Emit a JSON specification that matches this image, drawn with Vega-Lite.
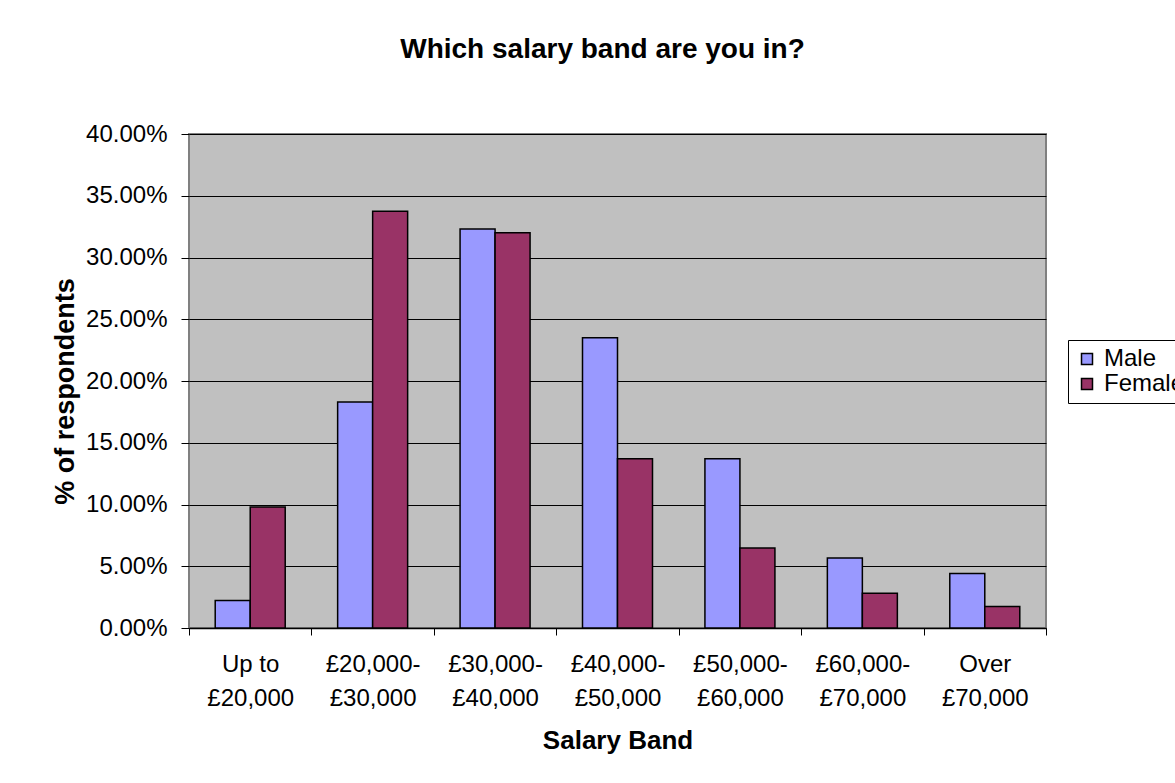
{
  "$schema": "https://vega.github.io/schema/vega-lite/v6.json",
  "width": 857,
  "height": 494,
  "autosize": {"type": "none"},
  "padding": {"left": 189, "top": 134, "right": 129, "bottom": 155},
  "background": "white",
  "title": {
    "text": "Which salary band are you in?",
    "font": "Liberation Sans",
    "fontSize": 28,
    "fontWeight": "bold",
    "color": "black",
    "anchor": "middle",
    "dx": -15,
    "baseline": "alphabetic",
    "offset": 36
  },
  "data": {
    "values": [
      {"band": "Up to\n£20,000", "gender": "Male", "pct": 0.0223},
      {"band": "Up to\n£20,000", "gender": "Female", "pct": 0.0979},
      {"band": "£20,000-\n£30,000", "gender": "Male", "pct": 0.183},
      {"band": "£20,000-\n£30,000", "gender": "Female", "pct": 0.3375},
      {"band": "£30,000-\n£40,000", "gender": "Male", "pct": 0.323},
      {"band": "£30,000-\n£40,000", "gender": "Female", "pct": 0.32},
      {"band": "£40,000-\n£50,000", "gender": "Male", "pct": 0.235},
      {"band": "£40,000-\n£50,000", "gender": "Female", "pct": 0.137},
      {"band": "£50,000-\n£60,000", "gender": "Male", "pct": 0.137},
      {"band": "£50,000-\n£60,000", "gender": "Female", "pct": 0.0647},
      {"band": "£60,000-\n£70,000", "gender": "Male", "pct": 0.0566},
      {"band": "£60,000-\n£70,000", "gender": "Female", "pct": 0.0282},
      {"band": "Over\n£70,000", "gender": "Male", "pct": 0.0442},
      {"band": "Over\n£70,000", "gender": "Female", "pct": 0.0174}
    ]
  },
  "mark": {"type": "bar", "stroke": "black", "strokeWidth": 1.5},
  "encoding": {
    "x": {
      "field": "band",
      "type": "nominal",
      "sort": null,
      "scale": {"paddingInner": 0, "paddingOuter": 0},
      "axis": {
        "tickBand": "extent",
        "tickColor": "black",
        "tickSize": 7,
        "domainColor": "black",
        "domainWidth": 1.5,
        "labelAngle": 0,
        "labelExpr": "split(datum.label, '\\n')",
        "labelLineHeight": 34,
        "labelFont": "Liberation Sans",
        "labelFontSize": 24,
        "labelColor": "black",
        "labelPadding": 17,
        "title": "Salary Band",
        "titleFont": "Liberation Sans",
        "titleFontSize": 26,
        "titleFontWeight": "bold",
        "titleColor": "black",
        "titlePadding": 17
      }
    },
    "xOffset": {
      "field": "gender",
      "sort": ["Male", "Female"],
      "scale": {"paddingInner": 0, "paddingOuter": 0.749}
    },
    "y": {
      "field": "pct",
      "type": "quantitative",
      "scale": {"domain": [0, 0.4], "nice": false},
      "axis": {
        "values": [0, 0.05, 0.1, 0.15, 0.2, 0.25, 0.3, 0.35, 0.4],
        "format": ".2%",
        "grid": true,
        "gridColor": "black",
        "gridOpacity": 1,
        "gridWidth": 1,
        "domain": false,
        "tickColor": "black",
        "tickSize": 8,
        "labelFont": "Liberation Sans",
        "labelFontSize": 24,
        "labelColor": "black",
        "labelPadding": 14,
        "title": "% of respondents",
        "titleFont": "Liberation Sans",
        "titleFontSize": 27,
        "titleFontWeight": "bold",
        "titleColor": "black",
        "titlePadding": 6,
        "titleY": 257
      }
    },
    "color": {
      "field": "gender",
      "type": "nominal",
      "scale": {"domain": ["Male", "Female"], "range": ["#9999FF", "#993366"]},
      "legend": {
        "title": null,
        "orient": "none",
        "legendX": 879,
        "legendY": 206,
        "symbolType": "square",
        "symbolSize": 121,
        "symbolStrokeColor": "black",
        "symbolStrokeWidth": 1.5,
        "symbolOpacity": 1,
        "labelFont": "Liberation Sans",
        "labelFontSize": 24,
        "labelColor": "black",
        "labelOffset": 5,
        "rowPadding": 1,
        "padding": 7,
        "fillColor": "white",
        "strokeColor": "black"
      }
    }
  },
  "config": {
    "view": {"fill": "#C0C0C0", "stroke": "#808080", "strokeWidth": 2}
  }
}
